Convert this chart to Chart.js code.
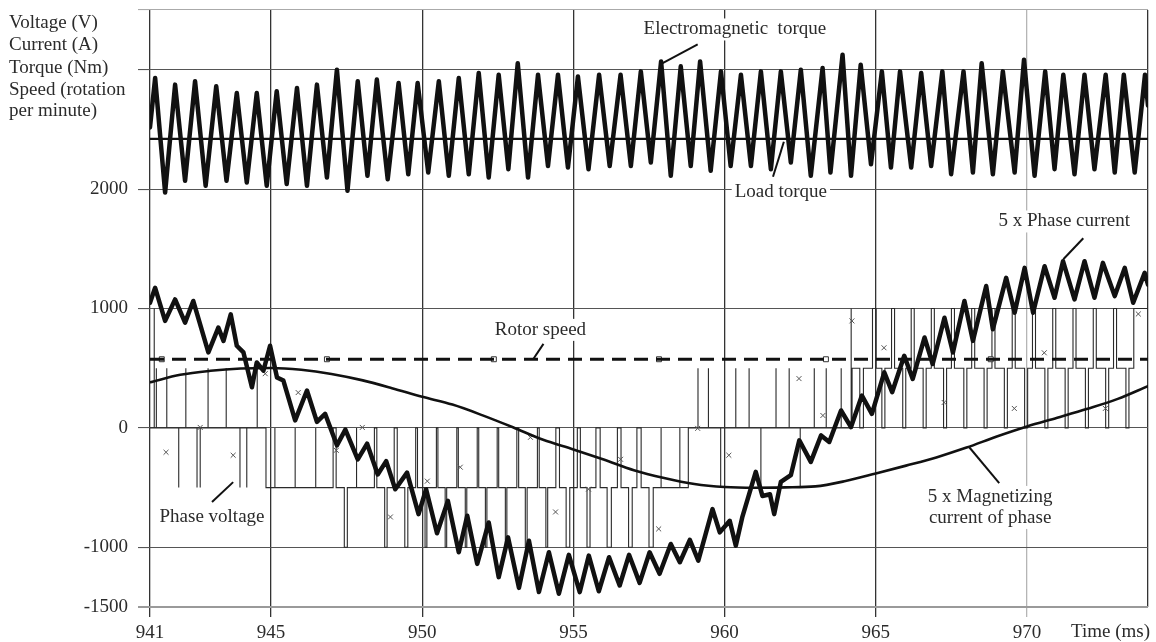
<!DOCTYPE html>
<html>
<head>
<meta charset="utf-8">
<script src="https://cdn.jsdelivr.net/npm/chart.js@4.4.1/dist/chart.umd.min.js"></script>
<style>
  html, body { margin: 0; padding: 0; background: #fff; }
  #wrap { width: 1156px; height: 642px; }
</style>
</head>
<body>
<div id="wrap"><canvas id="chart" width="1156" height="642"></canvas></div>
<script>
// axis ticks
const xTicks = [941, 945, 950, 955, 960, 965, 970, 974];
const xLabelled = [941, 945, 950, 955, 960, 965, 970];
const yTicks = [-1500, -1000, 0, 1000, 2000, 3000, 3500];
const yLabelled = [-1500, -1000, 0, 1000, 2000];

// electromagnetic torque (peaks and troughs)
const torqueT = [941.00,941.17,941.50,941.83,942.16,942.49,942.84,943.19,943.53,943.87,944.20,944.53,944.86,945.19,945.52,945.86,946.19,946.52,946.85,947.18,
  947.53,947.87,948.19,948.50,948.86,949.22,949.54,949.85,950.20,950.55,950.88,951.21,951.54,951.87,952.20,952.53,952.85,953.16,953.50,953.83,
  954.16,954.49,954.82,955.15,955.50,955.85,956.20,956.56,956.90,957.23,957.56,957.90,958.22,958.55,958.88,959.19,959.54,959.88,960.20,960.54,
  960.87,961.20,961.53,961.86,962.19,962.52,962.85,963.24,963.50,963.90,964.18,964.50,964.84,965.20,965.50,965.80,966.17,966.50,966.83,967.20,
  967.49,967.90,968.21,968.50,968.87,969.20,969.59,969.90,970.25,970.60,970.91,971.20,971.57,971.90,972.23,972.60,972.90,973.20,973.56,973.90,974.00];
const torqueV = [2517,2931,1972,2875,2069,2903,2028,2861,2069,2805,2056,2805,2028,2819,2042,2847,2028,2875,2097,3000,
  1986,2903,2111,2917,2083,2889,2125,2889,2139,2903,2111,2931,2125,2972,2097,2958,2167,3055,2097,2958,
  2194,2958,2180,2944,2167,2958,2194,2958,2194,2986,2222,3069,2111,3028,2194,3069,2153,2986,2194,2958,
  2194,2986,2167,2986,2222,3000,2111,3014,2139,3125,2111,3042,2208,2986,2180,2986,2180,2972,2194,2986,
  2125,2986,2139,3055,2125,2986,2139,3083,2111,2986,2167,2958,2125,2958,2167,2958,2139,2958,2139,2958,2700];
const loadTorque = 2420;

// rotor speed (rpm) and its square markers
const rotorSpeed = 575;
const speedMarkT = [941.39, 946.85, 952.37, 957.83, 963.35, 968.80];

// 5 x magnetizing current
const magT = [941,942,943,944,945,946,947,948,949,950,951,952,953,954,955,956,957,958,959,960,961,962,963,964,965,966,967,968,969,970,971,972,973,974];
const magV = [382,445,478,497,502,487,452,400,333,260,195,105,5,-100,-180,-265,-355,-420,-470,-495,-501,-498,-490,-445,-382,-316,-247,-165,-72,12,85,160,243,350];

// 5 x phase current
const curT = [941.00,941.17,941.50,941.83,942.16,942.43,942.93,943.26,943.43,943.67,943.87,944.09,944.37,944.53,944.75,944.97,945.20,945.41,945.80,946.19,
  946.52,946.79,947.18,947.46,947.87,948.18,948.53,948.81,949.11,949.50,949.88,950.13,950.49,950.85,951.21,951.49,951.82,952.20,952.53,952.84,
  953.20,953.53,953.86,954.19,954.52,954.85,955.21,955.51,955.84,956.18,956.53,956.84,957.19,957.52,957.85,958.22,958.52,958.85,959.13,959.60,
  959.84,960.17,960.37,960.59,961.03,961.25,961.50,961.64,961.86,962.19,962.47,962.85,963.19,963.46,963.85,964.18,964.54,964.87,965.28,965.54,
  965.94,966.22,966.61,966.88,967.27,967.55,967.93,968.21,968.65,968.87,969.31,969.59,969.92,970.20,970.58,970.91,971.19,971.57,971.90,972.23,
  972.51,972.90,973.23,973.51,973.89,974.00];
const curV = [1048,1173,896,1076,882,1063,632,840,729,951,688,632,340,548,479,688,423,396,63,313,
  50,118,-146,-14,-264,-132,-390,-278,-514,-375,-722,-514,-882,-611,-1041,-736,-1139,-792,-1250,-917,
  -1340,-945,-1375,-1041,-1389,-1063,-1375,-1070,-1368,-1083,-1320,-1063,-1298,-1042,-1222,-972,-1125,-938,-1111,-680,
  -875,-778,-986,-743,-368,-570,-556,-722,-452,-396,-104,-285,-63,-118,146,7,271,118,465,299,
  604,410,757,535,923,632,1063,729,1188,827,1257,965,1340,965,1354,1090,1396,1076,1396,1090,
  1382,1104,1340,1048,1298,1200];

// phase voltage PWM: pulse centre, width, level at centre, shoulder level, shoulder width, level after
const pwmC   = [941.16,941.31,941.70,941.97,942.33,942.58,942.68,943.07,943.68,944.00,944.25,944.69,
  945.28,945.95,946.62,947.29,947.96,948.63,949.30,949.97,950.64,951.31,951.98,952.64,953.30,953.98,954.65,955.34,956.00,956.70,957.37,
  958.04,958.66,959.16,959.52,959.95,960.48,960.92,961.31,961.81,962.27,962.55,963.08,963.50,963.98,964.20,
  964.74,965.41,966.08,966.75,967.42,968.09,968.76,969.43,970.10,970.77,971.44,972.11,972.78,973.45];
const pwmW   = [0.04,0.20,0.29,0.04,0.29,0.05,0.04,0.30,0.32,0.05,0.10,0.29,
  0.30,0.30,0.28,0.27,0.26,0.26,0.25,0.25,0.24,0.23,0.22,0.22,0.22,0.22,0.22,0.22,0.23,0.25,0.26,
  0.28,0.28,0.08,0.11,0.16,0.22,0.22,0.22,0.22,0.27,0.10,0.23,0.28,0.25,0.03,
  0.30,0.22,0.18,0.17,0.16,0.16,0.16,0.16,0.16,0.16,0.16,0.16,0.16,0.16];
const pwmMid = [1000,500,500,-500,500,-500,-500,500,500,-500,-500,500,
  0,0,0,0,0,0,0,0,0,0,0,0,0,0,0,0,0,0,0,
  0,0,500,500,-500,500,500,-500,500,500,-500,500,500,500,1000,
  0,0,0,0,0,0,0,0,0,0,0,0,0,0];
const pwmSh  = [0,0,0,0,0,0,0,0,0,0,0,0,
  -500,-500,-500,-500,-500,-500,-500,-500,-500,-500,-500,-500,-500,-500,-500,-500,-500,-500,-500,
  -500,-500,0,0,0,0,0,0,0,0,0,0,0,0,0,
  500,500,500,500,500,500,500,500,500,500,500,500,500,500];
const pwmS   = [0,0,0,0,0,0,0,0,0,0,0,0,
  0,0,0,0.10,0,0.08,0.10,0.06,0.05,0.05,0.05,0.05,0.06,0.06,0.12,0.10,0.14,0.12,0.14,
  0,0,0,0,0,0,0,0,0,0,0,0,0,0,0,
  0.12,0.10,0.10,0.10,0.10,0.10,0.10,0.10,0.10,0.10,0.10,0.10,0.10,0.10];
const pwmOut = [0,0,0,0,0,0,0,0,0,0,0,0,
  -500,-500,-500,-1000,-500,-1000,-1000,-1000,-1000,-1000,-1000,-1000,-1000,-1000,-1000,-1000,-1000,-1000,-1000,
  -500,-500,0,0,0,0,0,0,0,0,0,0,0,0,0,
  1000,1000,1000,1000,1000,1000,1000,1000,1000,1000,1000,1000,1000,1000];

// small x marks on the voltage trace
const markT = [941.53,942.66,943.75,944.81,945.90,947.16,948.02,948.95,950.17,951.26,953.58,954.41,955.50,956.56,957.82,959.11,960.14,962.46,963.25,964.21,965.27,967.26,969.58,970.57,972.59,973.68];
const markV = [-204,4,-229,454,296,-188,4,-746,-446,-329,-79,-704,-513,-263,-846,-4,-229,413,104,896,671,213,163,629,163,954];

// callouts: text lines, text centre (ms, value), leader from / to
const notes = [
  { lines: ['Electromagnetic  torque'], t: 960.34, v: 3337, from: [957.89, 3046], to: [959.11, 3212] },
  { lines: ['Load torque'], t: 961.86, v: 1979, from: [961.96, 2396], to: [961.60, 2104] },
  { lines: ['5 x Phase current'], t: 971.23, v: 1729, from: [971.86, 1588], to: [971.20, 1413] },
  { lines: ['Rotor speed'], t: 953.91, v: 821, from: [954.01, 704], to: [953.68, 579] },
  { lines: ['Phase voltage'], t: 943.05, v: -746, from: [943.05, -621], to: [943.75, -454] },
  { lines: ['5 x Magnetizing', 'current of phase'], t: 968.78, v: -666, from: [969.08, -462], to: [968.09, -162] }
];
const axisTitle = ['Voltage (V)', 'Current (A)', 'Torque (Nm)', 'Speed (rotation', 'per minute)'];

const FONT = "'Liberation Serif', 'Times New Roman', serif";
const zip = (a, b) => a.map((t, i) => ({ x: t, y: b[i] }));

function pwmPoints(){
  const pts = [{ x: 941, y: 0 }];
  pwmC.forEach((c, k) => {
    const h = pwmW[k] / 2, s = pwmS[k];
    pts.push({ x: c - h - s, y: pwmSh[k] });
    pts.push({ x: c - h, y: pwmMid[k] });
    pts.push({ x: c + h, y: pwmSh[k] });
    pts.push({ x: c + h + s, y: pwmOut[k] });
  });
  pts.push({ x: 974, y: pts[pts.length - 1].y });
  return pts;
}

const textPlugin = {
  id: 'texts',
  beforeDatasetsDraw(chart){
    const ctx = chart.ctx, xs = chart.scales.x, ys = chart.scales.y;
    ctx.save();
    ctx.font = '19px ' + FONT;
    ctx.textAlign = 'center';
    ctx.textBaseline = 'middle';
    notes.forEach(n => {
      const cx = xs.getPixelForValue(n.t), cy = ys.getPixelForValue(n.v);
      const lh = 21, top = cy - (n.lines.length - 1) * lh / 2;
      n.lines.forEach((s, i) => {
        const w = ctx.measureText(s).width;
        ctx.fillStyle = '#fff';
        ctx.fillRect(cx - w / 2 - 3, top + i * lh - 11, w + 6, 22);
      });
      ctx.fillStyle = '#2b2b2b';
      n.lines.forEach((s, i) => ctx.fillText(s, cx, top + i * lh));
      ctx.strokeStyle = '#111';
      ctx.lineWidth = 2;
      ctx.beginPath();
      ctx.moveTo(xs.getPixelForValue(n.from[0]), ys.getPixelForValue(n.from[1]));
      ctx.lineTo(xs.getPixelForValue(n.to[0]), ys.getPixelForValue(n.to[1]));
      ctx.stroke();
    });
    ctx.restore();
  },
  afterDraw(chart){
    const ctx = chart.ctx;
    ctx.save();
    ctx.font = '19px ' + FONT;
    ctx.fillStyle = '#2b2b2b';
    ctx.textBaseline = 'middle';
    ctx.textAlign = 'left';
    const ys = [23, 45, 68, 90, 111];
    axisTitle.forEach((s, i) => ctx.fillText(s, 9, ys[i]));
    ctx.textAlign = 'right';
    ctx.fillText('Time (ms)', 1150, 632);
    ctx.restore();
  }
};

const lineBase = { pointRadius: 0, tension: 0, fill: false, borderColor: '#111', borderJoinStyle: 'round', borderCapStyle: 'round' };

new Chart(document.getElementById('chart').getContext('2d'), {
  type: 'line',
  data: {
    datasets: [
      { ...lineBase, label: '5 x Phase current', data: zip(curT, curV), borderWidth: 4.5 },
      { ...lineBase, label: 'Electromagnetic torque', data: zip(torqueT, torqueV), borderWidth: 4.5 },
      { ...lineBase, label: '5 x Magnetizing current', data: zip(magT, magV), borderWidth: 2.6, cubicInterpolationMode: 'monotone' },
      { ...lineBase, label: 'Rotor speed', data: [{ x: 941, y: rotorSpeed }, { x: 974, y: rotorSpeed }], borderWidth: 3, borderDash: [14, 8], borderCapStyle: 'butt' },
      { ...lineBase, label: 'Load torque', data: [{ x: 941, y: loadTorque }, { x: 974, y: loadTorque }], borderWidth: 2.2 },
      { label: 'speed marks', data: speedMarkT.map(t => ({ x: t, y: rotorSpeed })), showLine: false,
        pointStyle: 'rect', pointRadius: 3.5, pointBackgroundColor: '#fff', pointBorderColor: '#333', pointBorderWidth: 1 },
      { label: 'marks', data: zip(markT, markV), showLine: false,
        pointStyle: 'crossRot', pointRadius: 3.5, pointBorderColor: '#555', pointBorderWidth: 1 },
      { ...lineBase, label: 'Phase voltage', data: pwmPoints(), borderWidth: 1.1, borderColor: '#2a2a2a', stepped: 'after',
        borderJoinStyle: 'miter', borderCapStyle: 'butt' }
    ]
  },
  options: {
    responsive: false,
    animation: false,
    layout: { padding: { left: 0, top: 10, right: 8, bottom: 0 } },
    plugins: { legend: { display: false }, tooltip: { enabled: false } },
    scales: {
      x: {
        type: 'linear', min: 941, max: 974,
        afterBuildTicks: s => { s.ticks = xTicks.map(v => ({ value: v })); },
        afterFit: s => { s.height = 35; s.paddingLeft = 0; s.paddingRight = 0; },
        border: { display: false },
        grid: {
          color: c => c.tick && c.tick.value === 970 ? '#b5b5b5' : '#333',
          lineWidth: 1.3, tickLength: 10,
          tickColor: c => c.tick && c.tick.value === 974 ? 'rgba(0,0,0,0)' : (c.tick && c.tick.value === 970 ? '#b5b5b5' : '#333')
        },
        ticks: {
          autoSkip: false, maxRotation: 0, padding: 5, color: '#2b2b2b',
          font: { family: FONT, size: 19 },
          callback: v => xLabelled.includes(v) ? String(v) : ''
        }
      },
      y: {
        type: 'linear', min: -1500, max: 3500,
        afterBuildTicks: s => { s.ticks = yTicks.map(v => ({ value: v })); },
        afterFit: s => { s.width = 150; s.paddingTop = 0; s.paddingBottom = 0; },
        border: { display: false },
        grid: {
          color: c => {
            const v = c.tick && c.tick.value;
            if (v === -1500) return '#9a9a9a';
            if (v === 3500) return '#aaaaaa';
            return '#555';
          },
          lineWidth: c => (c.tick && c.tick.value === -1500) ? 2 : 1.1,
          tickLength: 12
        },
        ticks: {
          autoSkip: false, padding: 10, color: '#2b2b2b',
          font: { family: FONT, size: 19 },
          callback: v => yLabelled.includes(v) ? String(v) : ''
        }
      }
    }
  },
  plugins: [textPlugin]
});
</script>
</body>
</html>
